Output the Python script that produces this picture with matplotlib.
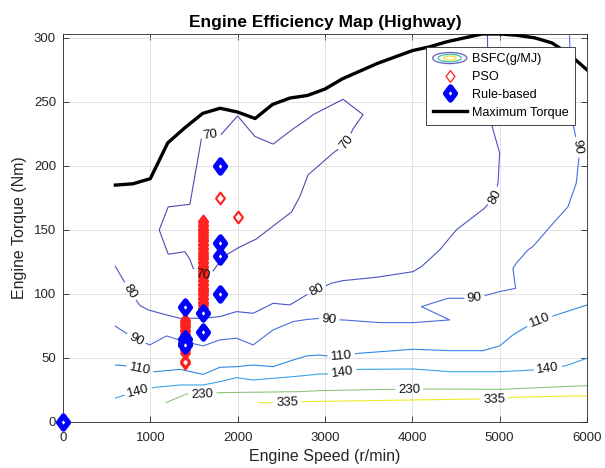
import numpy as np
import matplotlib
matplotlib.use("Agg")
import matplotlib.pyplot as plt
from matplotlib.contour import ContourSet
from matplotlib.legend_handler import HandlerBase
from matplotlib.patches import Ellipse
from matplotlib.lines import Line2D
from matplotlib.path import Path

plt.rcParams["font.family"] = ["Liberation Sans", "DejaVu Sans"]

# ---- maximum torque curve ----
max_speed = [600, 800, 1000, 1200, 1400, 1600, 1800, 2000, 2200, 2400, 2600, 2800,
             3000, 3200, 3400, 3600, 3800, 4000, 4200, 4400, 4600, 4800, 5000,
             5200, 5400, 5600, 5800, 6000]
max_torque = [185, 186, 190, 218, 230, 241, 245, 242, 237, 248, 253, 255,
              260, 268, 274, 280, 285, 290, 293, 297, 300, 303, 303,
              302, 300, 296, 287, 275]

# ---- BSFC iso-lines (g/MJ): speed / torque vertices per level ----
bsfc_levels = [70, 80, 90, 110, 140, 230, 335]

iso70_speed = [1102, 1205, 1453, 1587, 1690, 1804, 1999, 2197, 2406, 2617, 2788, 2864,
               3207, 3436, 3322, 3246, 3093, 2807, 2712, 2617, 2406, 2216, 2006, 1834,
               1720, 1600, 1491, 1453, 1396, 1205, 1102]
iso70_torque = [150, 168, 170, 222, 224, 224, 239, 223, 217, 228, 236, 240,
                252, 240, 229, 218, 210, 193, 176, 164, 153, 143, 136, 129,
                118, 115, 120, 127, 133, 131, 150]

iso80_speed = [595, 767, 881, 976, 1186, 1339, 1605, 1796, 1987, 2178, 2406, 2597,
               2788, 2903, 3074, 3207, 3589, 4008, 4104, 4314, 4504, 4828, 4943,
               4981, 5000, 4905, 4870, 4860]
iso80_torque = [122, 102, 91, 87.5, 83.6, 81, 81, 82.3, 86.2, 84.9, 92.7, 91.4,
                99.2, 103, 108.4, 110.4, 113, 117.4, 121.3, 134.4, 150, 167, 176,
                186.5, 210, 233, 265, 302]

iso90_speed = [595, 835, 995, 1186, 1396, 1605, 1796, 1987, 2178, 2406, 2635, 2788,
               2941, 3047, 3207, 3627, 4008, 4428, 4104, 4409, 4714, 5000, 5183,
               5152, 5191, 5324, 5381, 5610, 5782, 5877, 5908, 5896, 5847, 5815, 5800]
iso90_torque = [75, 64.6, 60.2, 67.2, 62.7, 59.4, 64.1, 65.4, 60.2, 71.9, 78.4, 80,
                81, 79.7, 79.7, 77.6, 77.6, 79.7, 90.1, 96.6, 96.6, 101.8, 104.4,
                120, 124, 134.4, 137, 155, 168, 186.5, 206, 214.6, 230.7, 265, 302]

iso110_speed = [595, 709, 881, 1053, 1339, 1605, 1796, 1987, 2178, 2406, 2635, 2788,
                2941, 3017, 3188, 3379, 4008, 4428, 4809, 5000, 5152, 5343, 5458,
                5648, 6000]
iso110_torque = [44.5, 44, 41.1, 39.3, 41.1, 37.2, 42.7, 43.2, 44.5, 43.2, 48.4, 51.6,
                 52.3, 51.6, 51.6, 53.6, 56.8, 55.7, 55.7, 59.4, 68, 75.8, 79.2,
                 83.6, 91.4]

iso140_speed = [595, 709, 862, 1053, 1339, 1605, 1796, 1987, 2178, 2406, 2635, 2941,
                3017, 3200, 3379, 4008, 4428, 5000, 5381, 5553, 5763, 6000]
iso140_torque = [18.5, 21.1, 23.7, 27.1, 28.9, 28.9, 31.5, 34.6, 32.8, 34.1, 35.4, 37.5,
                 37.5, 38.5, 41.1, 41.4, 39.3, 39.3, 40.6, 42, 44, 49.8]

iso230_speed = [1178, 1415, 1598, 1777, 2712, 2941, 3741, 3963, 4161, 5000, 6000]
iso230_torque = [15.1, 21.9, 21.1, 22.9, 23.7, 24.5, 25.5, 25, 25.8, 25.5, 28.4]

iso335_speed = [2235, 2406, 2571, 2749, 4771, 4935, 5152, 6000]
iso335_torque = [15.1, 15.1, 15.1, 15.9, 18, 17.2, 19.3, 20.5]

iso_speed = [iso70_speed, iso80_speed, iso90_speed, iso110_speed,
             iso140_speed, iso230_speed, iso335_speed]
iso_torque = [iso70_torque, iso80_torque, iso90_torque, iso110_torque,
              iso140_torque, iso230_torque, iso335_torque]

# vertex indices that carry an inline value label
iso_label_vertex = [[4, 15, 25], [1, 13, 22], [1, 13, 20, 31], [2, 14, 22],
                    [2, 13, 19], [2, 7], [2, 5]]

level_colors = ["#4e4ab2", "#4a55c8", "#4a6be0", "#2f88e6", "#3aa2e6",
                "#8cc47a", "#ecec2a"]

# ---- operating points ----
pso_torque_1600 = [157, 156, 154, 153, 151, 150, 148, 147, 145, 144, 142, 141, 139,
                   138, 136, 135, 133, 131, 130, 128, 127, 125, 124, 122, 121, 119,
                   118, 116, 115, 113, 111, 110, 108, 107, 105, 104, 102, 101, 99,
                   97, 96, 94, 93, 91, 89]
pso_torque_1400 = [80, 79, 77, 76, 74, 72, 71, 69, 67, 65, 63, 61, 58, 56, 54, 48, 46]
pso_speed = [1800, 2000] + [1600] * len(pso_torque_1600) + [1400] * len(pso_torque_1400)
pso_torque = [175, 160] + pso_torque_1600 + pso_torque_1400

rule_speed = [0, 1400, 1400, 1400, 1400, 1600, 1600, 1800, 1800, 1800, 1800]
rule_torque = [0, 90, 65, 62, 60, 85, 70, 200, 140, 130, 100]

x_ticks = [0, 1000, 2000, 3000, 4000, 5000, 6000]
y_ticks = [0, 50, 100, 150, 200, 250, 300]

# ---- figure ----
fig = plt.figure(figsize=(6.05, 4.68), dpi=100)
ax = fig.add_axes([0.1041, 0.0983, 0.8661, 0.8291])
ax.set_xlim(0, 6000)
ax.set_ylim(0, 303)
ax.set_xticks(x_ticks)
ax.set_yticks(y_ticks)
ax.grid(True, color="#e3e3e3", linewidth=0.7)
ax.set_axisbelow(True)
ax.tick_params(direction="in", length=4, width=0.6, top=True, right=True,
               labelsize=9.5, colors="#262626")
ax.tick_params(axis="x", pad=7)
ax.tick_params(axis="y", pad=5)
for sp in ax.spines.values():
    sp.set_color("#262626")
    sp.set_linewidth(0.6)

segs = [[np.column_stack([s, t])] for s, t in zip(iso_speed, iso_torque)]
cs = ContourSet(ax, bsfc_levels, segs, colors=level_colors, linewidths=0.8)

label_pts = [(iso_speed[k][i], iso_torque[k][i])
             for k in range(len(bsfc_levels)) for i in iso_label_vertex[k]]
cs.clabel(bsfc_levels, fmt="%d", fontsize=9.5, colors="#111111", inline=True,
          inline_spacing=3, manual=label_pts)

diamond = Path([(0, 1), (0.75, 0), (0, -1), (-0.75, 0), (0, 1)],
               [Path.MOVETO, Path.LINETO, Path.LINETO, Path.LINETO, Path.CLOSEPOLY])

ax.plot(pso_speed, pso_torque, linestyle="none", marker=diamond, markersize=8.5,
        markerfacecolor="none", markeredgecolor="#ff2020", markeredgewidth=1.5,
        zorder=3)
ax.plot(rule_speed, rule_torque, linestyle="none", marker=diamond, markersize=9.5,
        markerfacecolor="white", markeredgecolor="#0000ff", markeredgewidth=3.8,
        zorder=4, clip_on=False)
ax.plot(max_speed, max_torque, color="black", linewidth=2.4, zorder=5)

ax.set_title("Engine Efficiency Map (Highway)", fontsize=12.5, fontweight="bold",
             color="black", pad=5)
ax.set_xlabel("Engine Speed (r/min)", fontsize=11.5, color="#262626", labelpad=4)
ax.set_ylabel("Engine Torque (Nm)", fontsize=11.5, color="#262626", labelpad=5)


class RingsHandler(HandlerBase):
    def __init__(self, colors):
        super().__init__()
        self.colors = colors

    def create_artists(self, legend, orig_handle, xdescent, ydescent, width,
                       height, fontsize, trans):
        cx = width / 2 - xdescent
        cy = height / 2 - ydescent
        arts = []
        for k, c in enumerate(self.colors):
            f = 1 - 0.32 * k
            arts.append(Ellipse((cx, cy), width * f, height * 1.25 * f, fill=False,
                                edgecolor=c, linewidth=0.9, transform=trans))
        return arts


bsfc_proxy = Line2D([], [])
pso_proxy = Line2D([], [], linestyle="none", marker=diamond, markersize=8.5,
                   markerfacecolor="none", markeredgecolor="#ff2020",
                   markeredgewidth=0.9)
rule_proxy = Line2D([], [], linestyle="none", marker=diamond, markersize=9.5,
                    markerfacecolor="white", markeredgecolor="#0000ff",
                    markeredgewidth=3.8)
torque_proxy = Line2D([], [], color="black", linewidth=2.4)

leg = ax.legend([bsfc_proxy, pso_proxy, rule_proxy, torque_proxy],
                ["BSFC(g/MJ)", "PSO", "Rule-based", "Maximum Torque"],
                handler_map={bsfc_proxy: RingsHandler(["#6a5fc0", "#40c0b0", "#f0e030"])},
                loc="upper right", bbox_to_anchor=(0.977, 0.966), borderaxespad=0,
                fontsize=9.1, frameon=True, fancybox=False, edgecolor="#262626",
                framealpha=1, handlelength=2.7, handletextpad=0.4,
                labelspacing=0.45, borderpad=0.5)
leg.get_frame().set_linewidth(0.6)
leg.set_zorder(10)

fig.savefig("out.png", dpi=100)
